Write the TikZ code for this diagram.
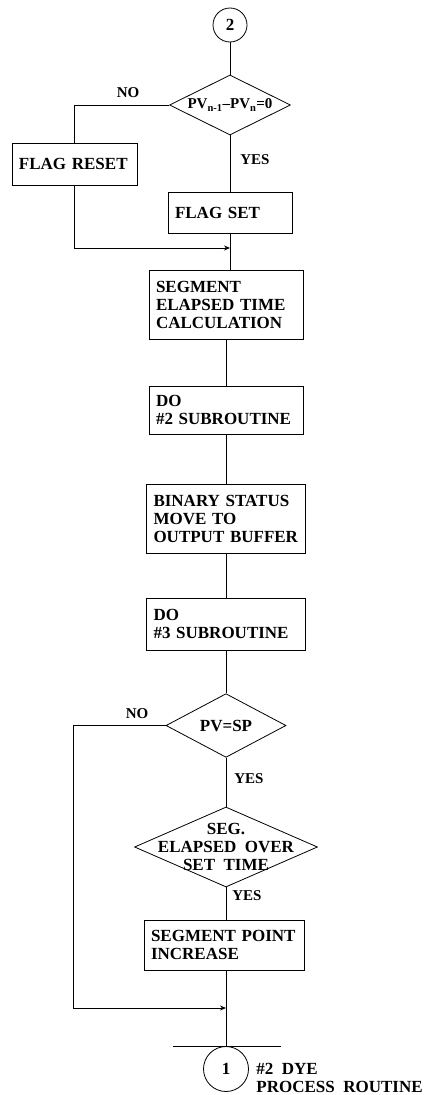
\documentclass[tikz,border=0pt]{standalone}
\usepackage{fontspec}
\setmainfont{Liberation Serif}[WordSpace=2]
\usetikzlibrary{arrows.meta, shapes.geometric}

\newcommand{\fcfont}{\fontsize{17}{18}\selectfont\bfseries}
\newcommand{\fclblfont}{\fontsize{15}{17}\selectfont\bfseries}

\begin{document}
\begin{tikzpicture}[
    x=1pt, y=-1pt,
    line width=0.8pt,
    >={Stealth[length=6pt, width=5pt]},
    fbox/.style={draw, align=left, inner xsep=7pt, inner ysep=0pt, font=\fcfont},
    decide/.style={draw, diamond, inner sep=0pt, font=\fcfont},
    dtext/.style={font=\fcfont, align=center, inner sep=0pt},
    conn/.style={draw, circle, inner sep=0pt, font=\fcfont},
    yn/.style={font=\fclblfont, inner sep=0pt}
  ]
  \useasboundingbox (0,0) rectangle (426,1095);

  % entry and first test
  \node[conn, minimum size=34pt] (c2) at (230,25) {2};
  \node[decide, minimum width=121pt, minimum height=60pt,
        label={[dtext, font=\fontsize{15}{16}\selectfont\bfseries]center:{PV\textsubscript{n-1}--PV\textsubscript{n}=0}}] (d1) at (230,105) {};
  \node[fbox, text width=111pt, minimum height=42pt] (reset) at (74.5,164) {FLAG RESET};
  \node[fbox, text width=110pt, minimum height=41pt] (set) at (230,212.5) {FLAG SET};
  \coordinate (m1) at (230,248);

  \draw (c2) -- (d1);
  \draw (d1.west) -| (reset.north);
  \node[yn] (no1) at (128,93) {NO};
  \draw (d1) -- (set);
  \node[yn] (yes1) at (255,160) {YES};
  \draw[->] (reset.south) |- (m1);

  % main column
  \node[fbox, text width=140pt, minimum height=69pt] (seg) at (226,304.5) {SEGMENT\\ELAPSED TIME\\CALCULATION};
  \node[fbox, text width=140pt, minimum height=48pt] (do2) at (226,410) {DO\\\#2 SUBROUTINE};
  \node[fbox, text width=145pt, minimum height=69pt] (bin) at (226,518.5) {BINARY STATUS\\MOVE TO\\OUTPUT BUFFER};
  \node[fbox, text width=145pt, minimum height=52pt] (do3) at (226,624) {DO\\\#3 SUBROUTINE};

  \draw (set.south) -- (set.south |- seg.north);
  \draw (seg) -- (do2);
  \draw (do2) -- (bin);
  \draw (bin) -- (do3);

  % second and third tests
  \node[decide, minimum width=120pt, minimum height=61pt] (d2) at (226,725.5) {PV=SP};
  \node[decide, minimum width=183pt, minimum height=80pt,
        label={[dtext]center:{SEG.\\ELAPSED OVER\\SET TIME}}] (d3) at (226,847) {};
  \node[fbox, text width=146pt, minimum height=50pt] (pt) at (224,945) {SEGMENT POINT\\INCREASE};
  \coordinate (m2) at (226,1008);
  \coordinate (lft) at (73,1008);

  \draw (do3) -- (d2);
  \draw (d2) -- (d3);
  \node[yn] (yes2) at (249,779) {YES};
  \node[yn] (no2) at (137,714) {NO};
  \draw (d3.south) -- (d3.south |- pt.north);
  \node[yn] (yes3) at (247,896) {YES};
  \draw[->] (d2.west) -| (lft) -- (m2);

  % exit
  \node[conn, minimum size=45pt] (c1) at (226,1069) {1};
  \node[font=\fcfont, align=left, anchor=west, inner sep=0pt] (dye) at (256,1078) {\#2 DYE\\PROCESS ROUTINE};
  \draw (pt.south -| c1) -- (c1);
  \draw ([xshift=-53pt]c1.north) -- ([xshift=55pt]c1.north);
\end{tikzpicture}
\end{document}
